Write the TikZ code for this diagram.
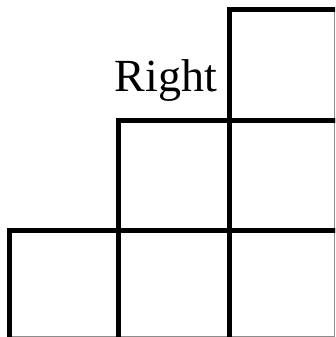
\documentclass[tikz,border=0pt]{standalone}
\usepackage{fontspec}
\setmainfont{Liberation Serif}
\begin{document}
\begin{tikzpicture}[x=1pt,y=-1pt,
  cell/.style={draw=black,line width=5pt},
  edge/.style={draw=black!45,line width=0.8pt}]
\useasboundingbox (0,0) rectangle (335,337);
\begin{scope}
\clip (0,0) rectangle (335,337);
\draw[edge] (7,336.6) -- (335,336.6);
\draw[edge] (334.6,8) -- (334.6,337);
\draw[cell] (229.5,10) rectangle (341,120);
\draw[cell] (118.5,120) rectangle (229.5,230);
\draw[cell] (229.5,120) rectangle (341,230);
\draw[cell] (9,230) rectangle (118.5,341);
\draw[cell] (118.5,230) rectangle (229.5,341);
\draw[cell] (229.5,230) rectangle (341,341);
\end{scope}
\node[anchor=base east,inner sep=0pt,font=\fontsize{46}{50}\selectfont] (lbl) at (217,92) {Right};
\end{tikzpicture}
\end{document}
